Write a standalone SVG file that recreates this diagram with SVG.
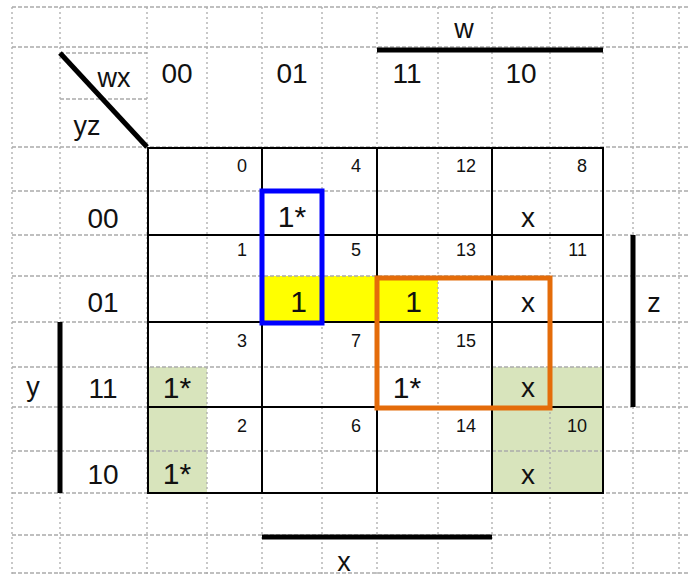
<svg xmlns="http://www.w3.org/2000/svg" width="688" height="577" viewBox="0 0 688 577">
<style>
.g{stroke:#ababab;stroke-width:1.3;fill:none}
.gh{stroke-dasharray:4 2}
.gv{stroke-dasharray:2 3}
.thin{stroke:#000;stroke-width:2;fill:none}
.thick{stroke:#000;stroke-width:5;fill:none}
text{font-family:"Liberation Sans",Arial,sans-serif;fill:#111}
.hd{font-size:28px;text-anchor:middle}
.lb{font-size:27px;text-anchor:middle}
.n{font-size:18px;text-anchor:end}
.c{font-size:30px;text-anchor:middle}
.ce{font-size:30px;text-anchor:end}
.x{font-size:28px;text-anchor:middle}
</style>
<rect width="688" height="577" fill="#fff"/>
<g id="fills">
<rect x="262" y="276" width="176" height="46" fill="#ffff00"/>
<rect x="147" y="367" width="60" height="126" fill="#d8e4bc"/>
<rect x="492" y="367" width="111" height="126" fill="#d8e4bc"/>
</g>
<g id="grid">
<path class="g gh" d="M12 7H688M12 47H688M60 53H147M60 99H147M12 147H688M12 191H688M12 235H688M12 276H688M12 322H688M12 367H688M12 407H688M12 451H688M12 493H688M12 535H688M12 573H688"/>
<path class="g gv" d="M12 7V577M60 7V577M147 7V577M207 7V577M262 7V577M322 7V577M377 7V577M438 7V577M492 7V577M550 7V577M603 7V577M633 7V577M679 7V577"/>
</g>
<g id="connectors">
<path class="thin" d="M262 147V493M377 147V493M492 147V493M147 235H603M147 322H603M147 407H603"/>
<rect class="thin" x="148" y="148" width="455" height="345" stroke-width="4"/>
<path class="thick" d="M60 53L147 147" stroke-width="4.5"/>
<path class="thick" d="M377 50H603"/>
<path class="thick" d="M633 235V407"/>
<path class="thick" d="M60 322V493"/>
<path class="thick" d="M262 537H492"/>
<rect x="262" y="191" width="60" height="132" fill="none" stroke="#0000ff" stroke-width="5"/>
<rect x="377" y="278" width="173" height="130" fill="none" stroke="#e46c0a" stroke-width="5"/>
</g>
<g id="labels">
<text class="lb" x="464" y="38">w</text>
<text class="lb" x="114" y="87">wx</text>
<text class="lb" x="87" y="135">yz</text>
<text class="lb" x="33" y="396">y</text>
<text class="lb" x="654" y="312">z</text>
<text class="lb" x="344" y="571">x</text>
</g>
<g id="col-headers">
<text class="hd" x="177" y="83">00</text>
<text class="hd" x="292" y="83">01</text>
<text class="hd" x="407" y="83">11</text>
<text class="hd" x="521" y="83">10</text>
</g>
<g id="row-headers">
<text class="hd" x="103" y="228">00</text>
<text class="hd" x="103" y="312">01</text>
<text class="hd" x="103" y="398">11</text>
<text class="hd" x="103" y="484">10</text>
</g>
<g id="indices">
<text class="n" x="247" y="172">0</text>
<text class="n" x="361" y="172">4</text>
<text class="n" x="476" y="172">12</text>
<text class="n" x="587" y="172">8</text>
<text class="n" x="247" y="256">1</text>
<text class="n" x="361" y="256">5</text>
<text class="n" x="476" y="256">13</text>
<text class="n" x="587" y="256">11</text>
<text class="n" x="247" y="347">3</text>
<text class="n" x="361" y="347">7</text>
<text class="n" x="476" y="347">15</text>
<text class="n" x="247" y="432">2</text>
<text class="n" x="361" y="432">6</text>
<text class="n" x="476" y="432">14</text>
<text class="n" x="587" y="432">10</text>
</g>
<g id="cells">
<text class="c" x="292" y="227">1*</text>
<text class="x" x="528" y="227">x</text>
<text class="ce" x="307" y="312">1</text>
<text class="ce" x="422" y="312">1</text>
<text class="x" x="528" y="312">x</text>
<text class="c" x="177" y="398">1*</text>
<text class="c" x="407" y="398">1*</text>
<text class="x" x="528" y="397">x</text>
<text class="c" x="177" y="484">1*</text>
<text class="x" x="528" y="484">x</text>
</g>
</svg>
